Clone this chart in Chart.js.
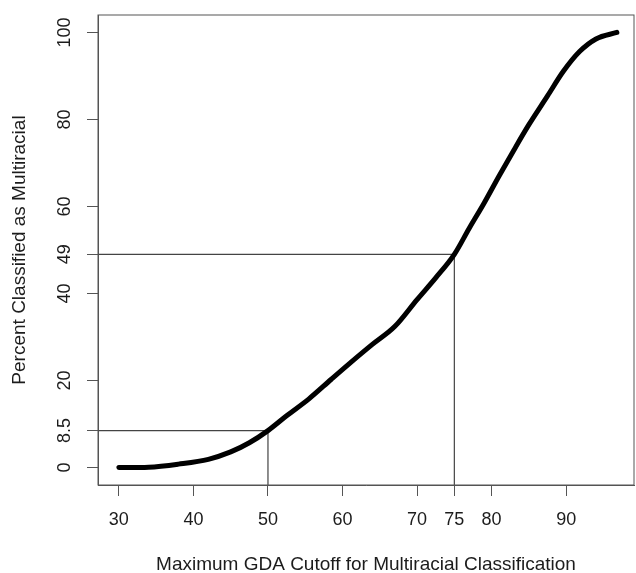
<!DOCTYPE html>
<html>
<head>
<meta charset="utf-8">
<script src="https://cdn.jsdelivr.net/npm/chart.js@4"></script>
<style>
  html, body { margin: 0; padding: 0; background: #fff; }
  #wrap { width: 636px; height: 573px; }
</style>
</head>
<body>
<div id="wrap"><canvas id="gdaChart"></canvas></div>
<script>
// ---------------------------------------------------------------- DATA ----------------------------------------------------------------
const cutoffValues = [30, 34, 38, 42, 45, 47.5, 50, 52.5, 55.5, 58.5, 61, 64, 67, 70, 72.5, 75, 77, 79, 81, 83, 85, 87.5, 89.6, 91.8, 94, 96.8];
const percentMultiracial = [0, 0.1, 0.8, 1.9, 3.6, 5.7, 8.5, 11.9, 15.8, 20.3, 24.0, 28.3, 32.4, 38.6, 43.6, 49, 55, 60.8, 67.0, 73.0, 78.8, 85.4, 91, 95.6, 98.5, 100];

// marked cutoffs and the percent classified at each
const markedCutoffs = [50, 75];
const markedPercents = [8.5, 49];

const xTickValues = [30, 40, 50, 60, 70, 75, 80, 90];
const yTickValues = [0, 8.5, 20, 40, 49, 60, 80, 100];

const X_MIN = 27.2, X_MAX = 99.1;
const Y_MIN = -4, Y_MAX = 104;

const FONT = "'Liberation Sans', Arial, Helvetica, sans-serif";
const TEXT_COLOR = '#1c1c1c';
const AXIS_COLOR = '#555555';

// ---------------------------------------------------------------- DATASETS ----------------------------------------------------------------
const curvePoints = cutoffValues.map((x, i) => ({ x: x, y: percentMultiracial[i] }));

const markerSets = markedCutoffs.map((c, i) => ({
    data: [
        { x: X_MIN, y: markedPercents[i] },
        { x: c, y: markedPercents[i] },
        { x: c, y: Y_MIN }
    ],
    showLine: true,
    borderColor: '#444444',
    borderWidth: 1.2,
    pointRadius: 0,
    tension: 0
}));

// box round the plot + rotated y tick labels (R style)
const boxPlugin = {
    id: 'boxPlugin',
    afterDraw(chart) {
        const { ctx, chartArea } = chart;
        const yScale = chart.scales.y;
        ctx.save();
        ctx.strokeStyle = AXIS_COLOR;
        ctx.lineWidth = 1;
        ctx.strokeRect(chartArea.left, chartArea.top, chartArea.right - chartArea.left, chartArea.bottom - chartArea.top);

        ctx.fillStyle = TEXT_COLOR;
        ctx.font = '18px ' + FONT;
        ctx.textAlign = 'center';
        ctx.textBaseline = 'middle';
        yTickValues.forEach(v => {
            const py = yScale.getPixelForValue(v);
            ctx.save();
            ctx.translate(65, py);
            ctx.rotate(-Math.PI / 2);
            ctx.fillText(String(v), 0, 0);
            ctx.restore();
        });
        ctx.restore();
    }
};

const ctx = document.getElementById('gdaChart').getContext('2d');
const gdaChart = new Chart(ctx, {
    type: 'scatter',
    data: {
        datasets: [{
            data: curvePoints,
            showLine: true,
            borderColor: '#000000',
            borderWidth: 5,
            borderCapStyle: 'round',
            borderJoinStyle: 'round',
            pointRadius: 0,
            cubicInterpolationMode: 'monotone'
        }].concat(markerSets)
    },
    options: {
        responsive: true,
        maintainAspectRatio: false,
        animation: false,
        events: [],
        layout: {
            padding: { top: 15, right: 2, left: 0, bottom: 0 }
        },
        plugins: {
            legend: { display: false },
            tooltip: { enabled: false }
        },
        scales: {
            x: {
                type: 'linear',
                min: X_MIN,
                max: X_MAX,
                afterBuildTicks: (scale) => { scale.ticks = xTickValues.map(v => ({ value: v })); },
                afterFit: (scale) => { scale.height = 88; },
                ticks: {
                    color: TEXT_COLOR,
                    font: { family: FONT, size: 18 },
                    padding: 13,
                    maxRotation: 0,
                    autoSkip: false,
                    callback: (v) => String(v)
                },
                grid: {
                    drawOnChartArea: false,
                    drawTicks: true,
                    tickLength: 11,
                    color: AXIS_COLOR
                },
                border: { display: true, color: AXIS_COLOR, width: 1 },
                title: {
                    display: true,
                    text: 'Maximum GDA Cutoff for Multiracial Classification',
                    color: TEXT_COLOR,
                    font: { family: FONT, size: 19, lineHeight: 1 },
                    padding: { top: 0, bottom: -1.5 }
                }
            },
            y: {
                type: 'linear',
                min: Y_MIN,
                max: Y_MAX,
                afterBuildTicks: (scale) => { scale.ticks = yTickValues.map(v => ({ value: v })); },
                afterFit: (scale) => { scale.width = 98; },
                ticks: { display: false },
                grid: {
                    drawOnChartArea: false,
                    drawTicks: true,
                    tickLength: 11,
                    color: AXIS_COLOR
                },
                border: { display: true, color: AXIS_COLOR, width: 1 },
                title: {
                    display: true,
                    text: 'Percent Classified as Multiracial',
                    color: TEXT_COLOR,
                    font: { family: FONT, size: 19, lineHeight: 1 },
                    padding: { top: 10.5, bottom: 0 }
                }
            }
        }
    },
    plugins: [boxPlugin]
});
</script>
</body>
</html>
